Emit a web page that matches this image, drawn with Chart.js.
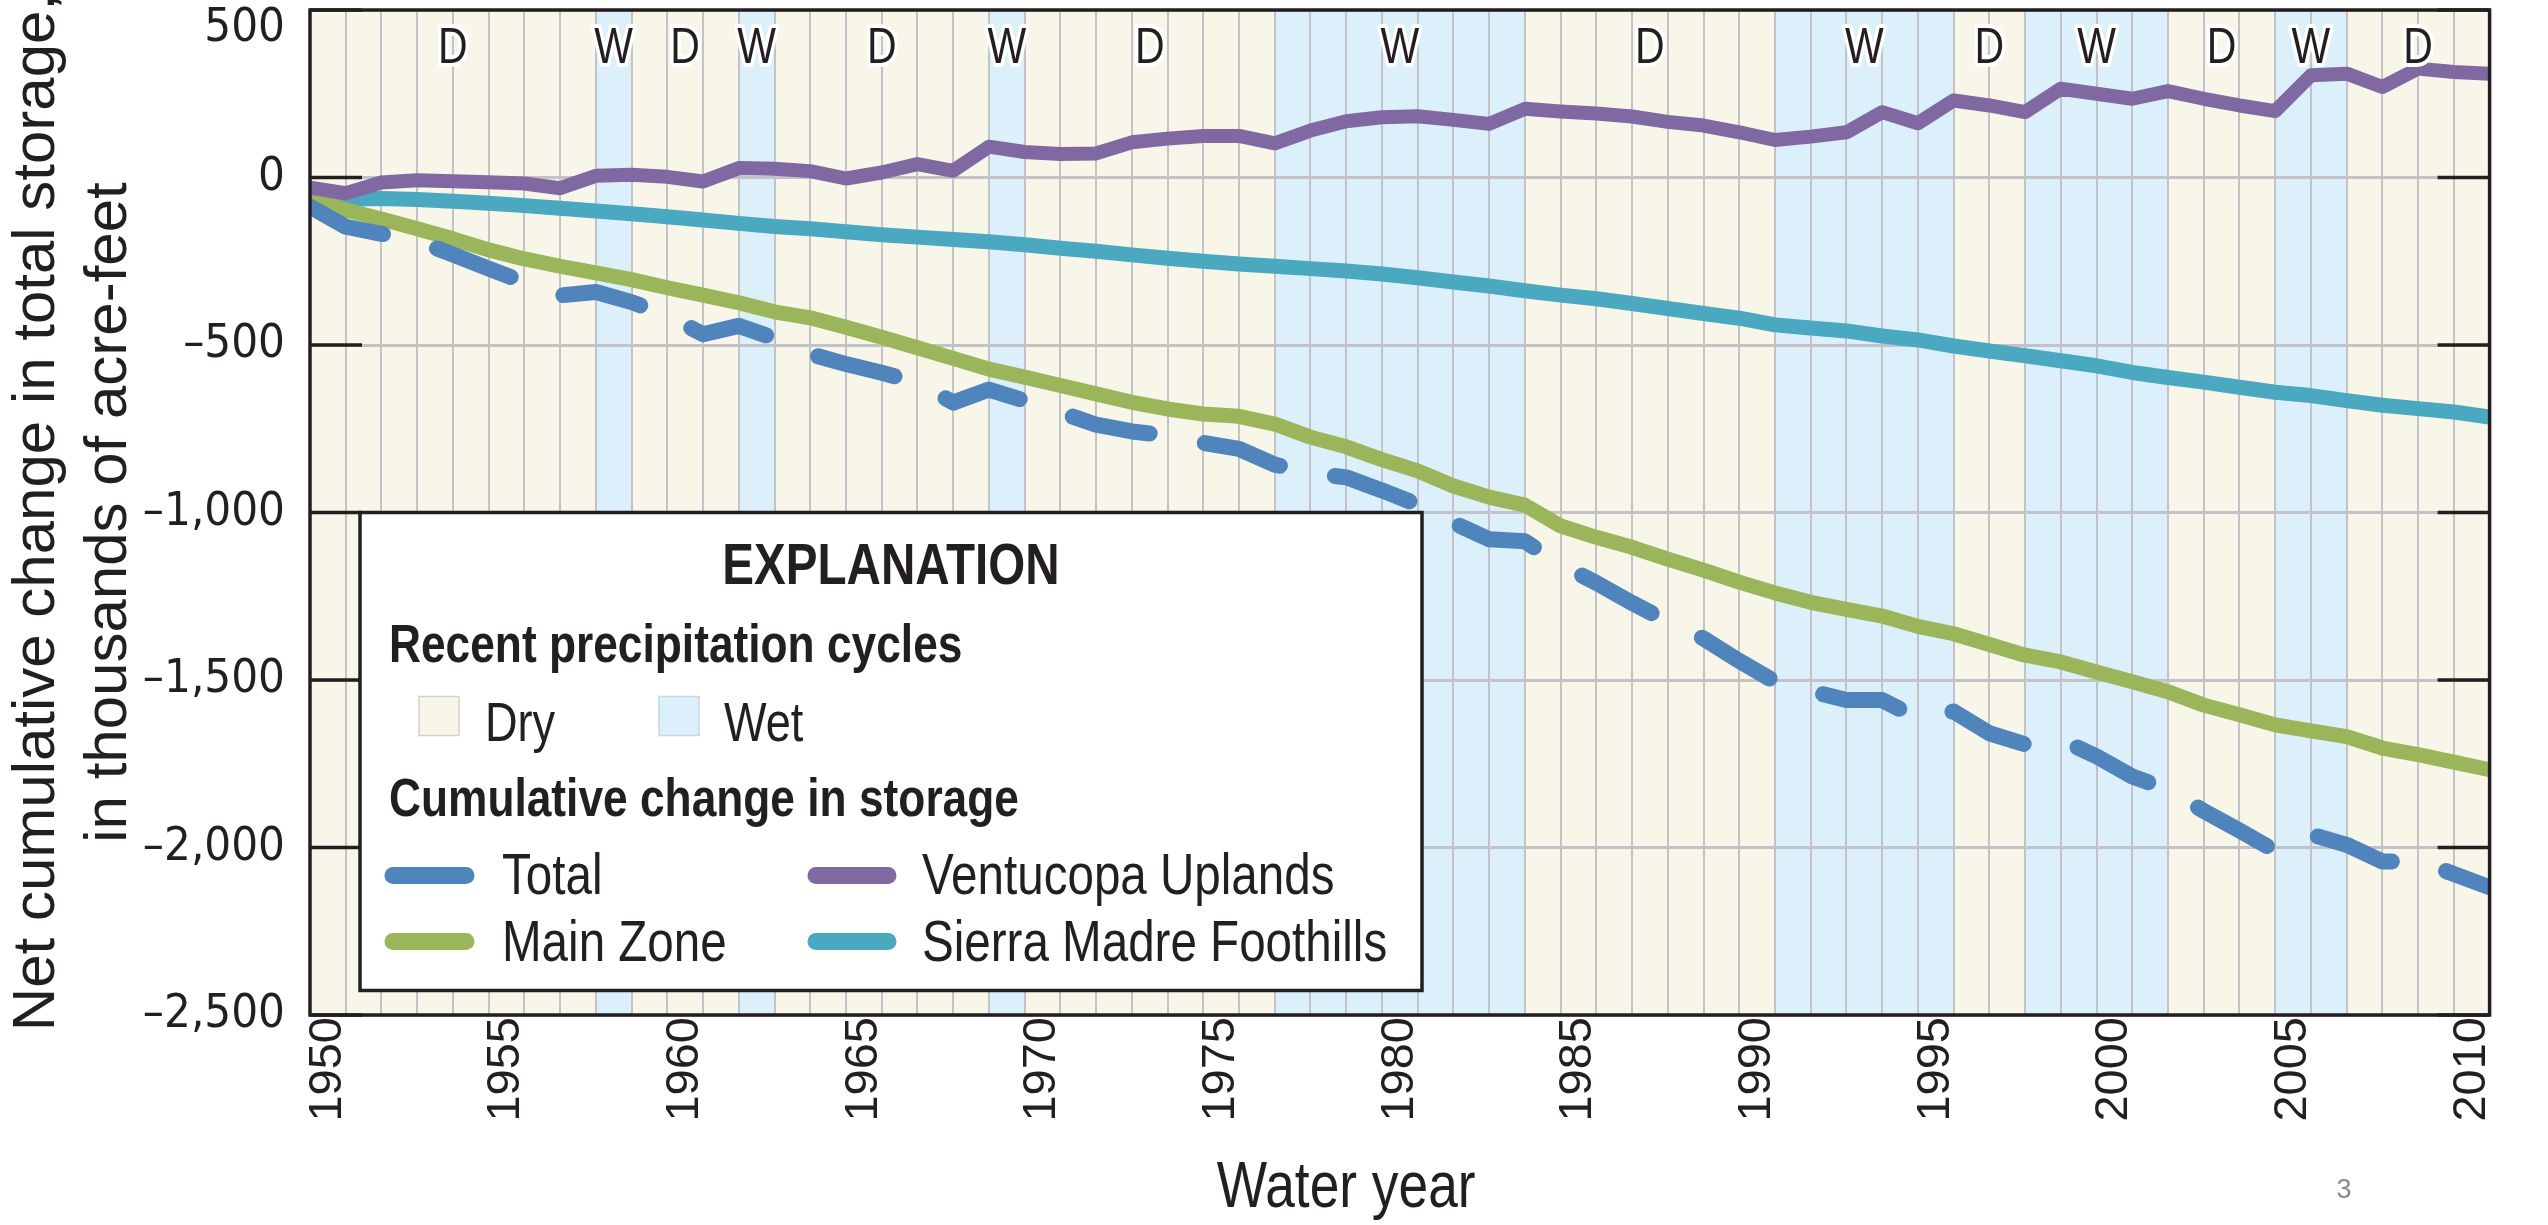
<!DOCTYPE html>
<html lang="en">
<head>
<meta charset="utf-8">
<title>Net cumulative change in total storage</title>
<script src="https://cdn.jsdelivr.net/npm/chart.js@4.4.1/dist/chart.umd.min.js"></script>
<style>
     body { margin: 0; background: #ffffff; }
     canvas { display: block; }
</style>
</head>
<body>
<canvas id="storageChart" width="2548" height="1225"></canvas>
<script>
     // year boundaries (start of each water year), 1950 .. 2011
     var years = [1950, 1951, 1952, 1953, 1954, 1955, 1956, 1957, 1958, 1959,
          1960, 1961, 1962, 1963, 1964, 1965, 1966, 1967, 1968, 1969,
          1970, 1971, 1972, 1973, 1974, 1975, 1976, 1977, 1978, 1979,
          1980, 1981, 1982, 1983, 1984, 1985, 1986, 1987, 1988, 1989,
          1990, 1991, 1992, 1993, 1994, 1995, 1996, 1997, 1998, 1999,
          2000, 2001, 2002, 2003, 2004, 2005, 2006, 2007, 2008, 2009,
          2010, 2011];
     var labelYears = [1950, 1955, 1960, 1965, 1970, 1975, 1980, 1985, 1990, 1995, 2000, 2005, 2010];
     var yTicks = [-2500, -2000, -1500, -1000, -500, 0, 500];

     // thousands of acre-feet
     var totalStorage = [-87, -147, -168, -190, -230, -272, -312, -352, -342, -372,
          -412, -468, -443, -480, -527, -557, -583, -612, -672, -633,
          -666, -701, -738, -758, -770, -792, -810, -857, -882, -895,
          -934, -976, -1031, -1080, -1086, -1155, -1210, -1270, -1326, -1376,
          -1443, -1505, -1533, -1560, -1560, -1614, -1594, -1659, -1692, -1678,
          -1728, -1788, -1827, -1891, -1949, -2010, -1961, -1992, -2042, -2040,
          -2079, -2119];
     var mainZone = [-60, -97, -124, -153, -183, -216, -243, -265, -285, -305,
          -329, -351, -374, -401, -419, -447, -477, -508, -540, -572,
          -596, -621, -646, -671, -691, -706, -713, -736, -775, -804,
          -842, -876, -921, -954, -978, -1040, -1074, -1104, -1139, -1172,
          -1208, -1240, -1268, -1289, -1309, -1340, -1362, -1394, -1426, -1446,
          -1476, -1505, -1535, -1575, -1604, -1634, -1652, -1669, -1703, -1723,
          -1745, -1768];
     var ventucopaUplands = [-30, -47, -15, -8, -11, -14, -18, -32, 5, 8,
          2, -12, 28, 26, 19, -3, 15, 40, 20, 92,
          76, 70, 72, 105, 116, 124, 124, 102, 140, 168,
          180, 183, 172, 160, 205, 197, 191, 182, 166, 155,
          135, 112, 122, 135, 195, 162, 230, 215, 195, 265,
          250, 235, 258, 235, 215, 198, 305, 310, 270, 325,
          315, 310];
     var sierraMadreFoothills = [-55, -65, -63, -66, -71, -77, -84, -92, -100, -108,
          -117, -127, -137, -146, -153, -162, -171, -178, -185, -192,
          -201, -211, -220, -231, -241, -250, -258, -265, -272, -279,
          -288, -299, -312, -324, -338, -351, -362, -376, -391, -406,
          -420, -440, -449, -458, -473, -485, -503, -518, -532, -547,
          -562, -582, -597, -611, -626, -641, -651, -666, -680, -690,
          -700, -715];

     // recent precipitation cycles (first and last water year of each)
     var cycleStart = [1950, 1958, 1959, 1962, 1963, 1969, 1970, 1977, 1984, 1991, 1996, 1998, 2002, 2005, 2007];
     var cycleEnd   = [1957, 1958, 1961, 1962, 1968, 1969, 1976, 1983, 1990, 1995, 1997, 2001, 2004, 2006, 2010];
     var cycleType  = ['D', 'W', 'D', 'W', 'D', 'W', 'D', 'W', 'D', 'W', 'D', 'W', 'D', 'W', 'D'];

     var condensed = "'DejaVu Sans Condensed', 'Liberation Sans Narrow', sans-serif";
     var regular = "'Liberation Sans', Arial, sans-serif";
     var squeeze = 0.82;   // Liberation Sans squeezed, close to a condensed face
     var ink = '#231f20';
     var dryColor = '#f7f6e9';
     var wetColor = '#dbf0fb';
     var gridColor = '#c3c3c7';
     var colors = {
          total: '#4f84bc',
          main: '#9bb65a',
          ventucopa: '#8068a3',
          sierra: '#4aa8c0'
     };

     function toPoints(values) {
          return values.map(function(v, i) { return { x: years[i], y: v }; });
     }

     function formatThousands(v) {
          var s = Math.abs(v).toLocaleString('en-US');
          return v < 0 ? '\u2013' + s : s;
     }

     // condensed text: squeeze the regular face horizontally
     function narrowText(ctx, text, x, y, font, align, halo) {
          ctx.save();
          ctx.translate(x, y);
          ctx.scale(squeeze, 1);
          ctx.font = font + ' ' + regular;
          ctx.textAlign = align || 'left';
          ctx.textBaseline = 'alphabetic';
          if (halo) {
               ctx.lineWidth = 8;
               ctx.lineJoin = 'round';
               ctx.strokeStyle = '#ffffff';
               ctx.strokeText(text, 0, 0);
          }
          ctx.fillStyle = ink;
          ctx.fillText(text, 0, 0);
          ctx.restore();
     }

     function lineSwatch(ctx, color, x0, x1, y) {
          ctx.beginPath();
          ctx.lineCap = 'round';
          ctx.lineWidth = 17;
          ctx.strokeStyle = color;
          ctx.moveTo(x0, y);
          ctx.lineTo(x1, y);
          ctx.stroke();
     }

     function boxSwatch(ctx, fill, edge, x, y) {
          ctx.fillStyle = fill;
          ctx.fillRect(x, y, 40, 39);
          ctx.lineWidth = 1.5;
          ctx.strokeStyle = edge;
          ctx.strokeRect(x, y, 40, 39);
     }

     function drawExplanation(chart) {
          var ctx = chart.ctx;
          var bx = chart.chartArea.left + 50;
          var by = chart.scales.y.getPixelForValue(-1000);
          var bw = 1062, bh = 478;

          ctx.save();
          ctx.fillStyle = '#ffffff';
          ctx.fillRect(bx, by, bw, bh);
          ctx.lineWidth = 3.5;
          ctx.strokeStyle = ink;
          ctx.strokeRect(bx, by, bw, bh);

          narrowText(ctx, 'EXPLANATION', bx + bw / 2, by + 71, 'bold 58px', 'center');
          narrowText(ctx, 'Recent precipitation cycles', bx + 29, by + 149, 'bold 54px');
          narrowText(ctx, 'Cumulative change in storage', bx + 29, by + 303, 'bold 54px');

          boxSwatch(ctx, dryColor, '#d2d2c6', bx + 59, by + 184);
          boxSwatch(ctx, wetColor, '#c6d6de', bx + 299, by + 184);
          narrowText(ctx, 'Dry', bx + 125, by + 228, '55px');
          narrowText(ctx, 'Wet', bx + 364, by + 228, '55px');

          lineSwatch(ctx, colors.total, bx + 33, bx + 106, by + 363);
          lineSwatch(ctx, colors.main, bx + 33, bx + 106, by + 429);
          lineSwatch(ctx, colors.ventucopa, bx + 456, bx + 528, by + 363);
          lineSwatch(ctx, colors.sierra, bx + 456, bx + 528, by + 429);

          narrowText(ctx, 'Total', bx + 142, by + 381, '58px');
          narrowText(ctx, 'Main Zone', bx + 142, by + 448, '58px');
          narrowText(ctx, 'Ventucopa Uplands', bx + 562, by + 381, '58px');
          narrowText(ctx, 'Sierra Madre Foothills', bx + 562, by + 448, '58px');
          ctx.restore();
     }

     var cyclePlugin = {
          id: 'cycles',
          beforeDraw: function(chart) {
               var ctx = chart.ctx, a = chart.chartArea, x = chart.scales.x;
               ctx.save();
               ctx.fillStyle = '#ffffff';
               ctx.fillRect(0, 0, chart.width, chart.height);
               for (var i = 0; i < cycleType.length; i++) {
                    var x0 = x.getPixelForValue(cycleStart[i]);
                    var x1 = x.getPixelForValue(cycleEnd[i] + 1);
                    ctx.fillStyle = cycleType[i] === 'W' ? wetColor : dryColor;
                    ctx.fillRect(x0, a.top, x1 - x0, a.bottom - a.top);
               }
               ctx.restore();
          },
          afterDatasetsDraw: function(chart) {
               var ctx = chart.ctx, a = chart.chartArea, x = chart.scales.x, y = chart.scales.y;
               ctx.save();
               // inward tick marks on both sides
               ctx.strokeStyle = ink;
               ctx.lineWidth = 3.5;
               yTicks.forEach(function(v) {
                    var py = y.getPixelForValue(v);
                    ctx.beginPath();
                    ctx.moveTo(a.left, py);
                    ctx.lineTo(a.left + 52, py);
                    ctx.moveTo(a.right - 52, py);
                    ctx.lineTo(a.right, py);
                    ctx.stroke();
               });
               ctx.strokeRect(a.left, a.top, a.right - a.left, a.bottom - a.top);

               // D / W letters
               for (var i = 0; i < cycleType.length; i++) {
                    var cx = (x.getPixelForValue(cycleStart[i]) + x.getPixelForValue(cycleEnd[i] + 1)) / 2;
                    narrowText(ctx, cycleType[i], cx, 63, '50px', 'center', true);
               }
               ctx.restore();
          },
          afterDraw: function(chart) {
               var ctx = chart.ctx, x = chart.scales.x;
               drawExplanation(chart);
               narrowText(ctx, 'Water year', x.getPixelForValue(1979), 1207, '65px', 'center');
               ctx.save();
               ctx.fillStyle = '#8a8a8a';
               ctx.textAlign = 'center';
               ctx.font = '27px ' + regular;
               ctx.fillText('3', 2344, 1198);
               ctx.restore();
          }
     };

     new Chart(document.getElementById('storageChart'), {
          type: 'line',
          data: {
               datasets: [
                    {
                         label: 'Total',
                         data: toPoints(totalStorage),
                         borderColor: colors.total,
                         borderWidth: 16,
                         borderDash: [79, 56],
                         borderCapStyle: 'round',
                         borderJoinStyle: 'round',
                         pointRadius: 0,
                         tension: 0,
                         fill: false
                    },
                    {
                         label: 'Ventucopa Uplands',
                         data: toPoints(ventucopaUplands),
                         borderColor: colors.ventucopa,
                         borderWidth: 14,
                         borderJoinStyle: 'round',
                         pointRadius: 0,
                         tension: 0,
                         fill: false
                    },
                    {
                         label: 'Main Zone',
                         data: toPoints(mainZone),
                         borderColor: colors.main,
                         borderWidth: 15,
                         borderJoinStyle: 'round',
                         pointRadius: 0,
                         tension: 0,
                         fill: false
                    },
                    {
                         label: 'Sierra Madre Foothills',
                         data: toPoints(sierraMadreFoothills),
                         borderColor: colors.sierra,
                         borderWidth: 15,
                         borderJoinStyle: 'round',
                         pointRadius: 0,
                         tension: 0,
                         fill: false
                    }
               ]
          },
          options: {
               responsive: false,
               animation: false,
               devicePixelRatio: 1,
               layout: { padding: { left: 0, right: 3, top: 0, bottom: 0 } },
               plugins: {
                    legend: { display: false },
                    tooltip: { enabled: false }
               },
               scales: {
                    x: {
                         type: 'linear',
                         min: 1950,
                         max: 2011,
                         afterBuildTicks: function(scale) {
                              var list = years.concat(labelYears.map(function(v) { return v + 0.5; }));
                              list.sort(function(p, q) { return p - q; });
                              scale.ticks = list.map(function(v) { return { value: v }; });
                         },
                         afterFit: function(scale) { scale.height = 210; },
                         border: { display: false },
                         grid: {
                              drawTicks: false,
                              lineWidth: 2,
                              color: function(c) {
                                   return c.tick && Number.isInteger(c.tick.value) ? gridColor : 'rgba(0,0,0,0)';
                              }
                         },
                         ticks: {
                              autoSkip: false,
                              minRotation: 90,
                              maxRotation: 90,
                              padding: 2,
                              color: ink,
                              font: { family: regular, size: 47 },
                              callback: function(value) {
                                   return Number.isInteger(value) ? '' : String(Math.floor(value));
                              }
                         }
                    },
                    y: {
                         type: 'linear',
                         min: -2500,
                         max: 500,
                         afterBuildTicks: function(scale) {
                              scale.ticks = yTicks.map(function(v) { return { value: v }; });
                         },
                         afterFit: function(scale) {
                              scale.width = 310;
                              scale.paddingTop = 10;
                              scale.paddingBottom = 0;
                         },
                         border: { display: false },
                         grid: {
                              drawTicks: false,
                              lineWidth: 3,
                              color: gridColor
                         },
                         ticks: {
                              padding: 25,
                              color: ink,
                              font: { family: condensed, size: 47, lineHeight: 0.8 },
                              callback: function(value) {
                                   // the top label sits just under the frame, as in the original figure
                                   return value === 500 ? ['', formatThousands(value)] : formatThousands(value);
                              }
                         },
                         title: {
                              display: true,
                              text: ['Net cumulative change in total storage,', 'in thousands of acre-feet'],
                              color: ink,
                              font: { family: regular, size: 60, lineHeight: 1.2 },
                              padding: { top: 1, bottom: 0 }
                         }
                    }
               }
          },
          plugins: [cyclePlugin]
     });
</script>
</body>
</html>
